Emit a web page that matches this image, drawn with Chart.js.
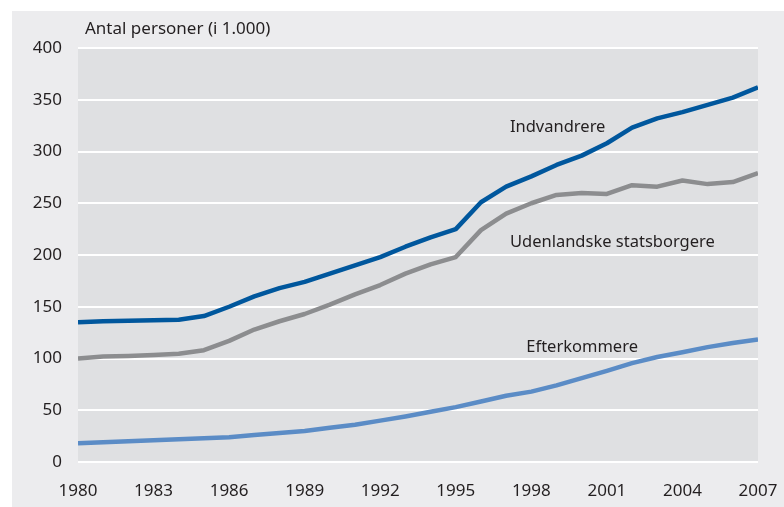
<!DOCTYPE html>
<html>
<head>
<meta charset="utf-8">
<script src="https://cdn.jsdelivr.net/npm/chart.js@4"></script>
<style>
  html, body { margin: 0; padding: 0; background: #fff; }
  #wrap { position: absolute; left: 12px; top: 11px; width: 772px; height: 496px; background: #ececee; }
</style>
</head>
<body>
<div id="wrap"><canvas id="chart" width="772" height="496"></canvas></div>
<script>
const aar = [1980,1981,1982,1983,1984,1985,1986,1987,1988,1989,1990,1991,1992,1993,
             1994,1995,1996,1997,1998,1999,2000,2001,2002,2003,2004,2005,2006,2007];
const indvandrere = [135,136,136.5,137,137.5,141,150,160,168,174,182,190,198,208,
                     217,225,251,266,276,287,296,308,323,332,338,345,352,362];
const statsborgere = [100,102,102.5,103.5,104.5,108,117,128,136,143,152,162,171,182,
                      191,198,224,240,250,258,260,259,267.5,266,272,268.5,270.5,279];
const efterkommere = [18,19,20,21,22,23,24,26,28,30,33,36,40,44,
                      48.5,53,58.5,64,68,74,81,88,95.5,101.5,106,111,115,118.5];
const xTicks = [1980,1983,1986,1989,1992,1995,1998,2001,2004,2007];

const font = '"Noto Sans", sans-serif';

function punkter(vals) {
    return vals.map((v, i) => ({ x: aar[i], y: v }));
}

const baggrund = {
    id: 'baggrund',
    beforeDraw(chart) {
        const { ctx, chartArea: a } = chart;
        ctx.save();
        ctx.fillStyle = '#dfe0e2';
        ctx.fillRect(a.left, a.top, a.right - a.left, a.bottom - a.top);
        ctx.restore();
    }
};

const tekster = {
    id: 'tekster',
    afterDraw(chart) {
        const { ctx, chartArea: a, scales: { x, y } } = chart;
        ctx.save();
        ctx.fillStyle = '#231f20';
        ctx.textBaseline = 'middle';
        ctx.textAlign = 'left';
        ctx.font = '17px ' + font;
        ctx.fillText('Antal personer (i 1.000)', a.left + 7, a.top - 19);
        ctx.font = '16.5px ' + font;
        ctx.fillText('Indvandrere', x.getPixelForValue(1997.15), y.getPixelForValue(323));
        ctx.fillText('Udenlandske statsborgere', x.getPixelForValue(1997.15), y.getPixelForValue(212));
        ctx.fillText('Efterkommere', x.getPixelForValue(1997.8), y.getPixelForValue(111));
        ctx.restore();
    }
};

new Chart(document.getElementById('chart'), {
    type: 'line',
    data: {
        datasets: [
            { label: 'Indvandrere', data: punkter(indvandrere), borderColor: '#00579d', borderWidth: 4.5 },
            { label: 'Udenlandske statsborgere', data: punkter(statsborgere), borderColor: '#8c8d8f', borderWidth: 4.5 },
            { label: 'Efterkommere', data: punkter(efterkommere), borderColor: '#5b8cc6', borderWidth: 4.5 }
        ]
    },
    options: {
        responsive: false,
        animation: false,
        layout: { padding: { top: 37, right: 26, left: 0, bottom: 0 } },
        elements: { point: { radius: 0 }, line: { tension: 0, borderJoinStyle: 'round' } },
        plugins: { legend: { display: false }, tooltip: { enabled: false } },
        scales: {
            x: {
                type: 'linear',
                min: 1980,
                max: 2007,
                afterBuildTicks: s => { s.ticks = xTicks.map(v => ({ value: v })); },
                afterFit: s => { s.height = 45; s.paddingLeft = 0; s.paddingRight = 0; },
                grid: { display: false, drawTicks: false },
                border: { display: false },
                ticks: { color: '#231f20', font: { family: font, size: 17 }, padding: 19, maxRotation: 0, callback: v => String(v) }
            },
            y: {
                min: 0,
                max: 400,
                afterFit: s => { s.width = 66; },
                grid: { color: '#ffffff', lineWidth: 2, drawTicks: false },
                border: { display: false },
                ticks: { stepSize: 50, color: '#231f20', font: { family: font, size: 17 }, padding: 16 }
            }
        }
    },
    plugins: [baggrund, tekster]
});
</script>
</body>
</html>
